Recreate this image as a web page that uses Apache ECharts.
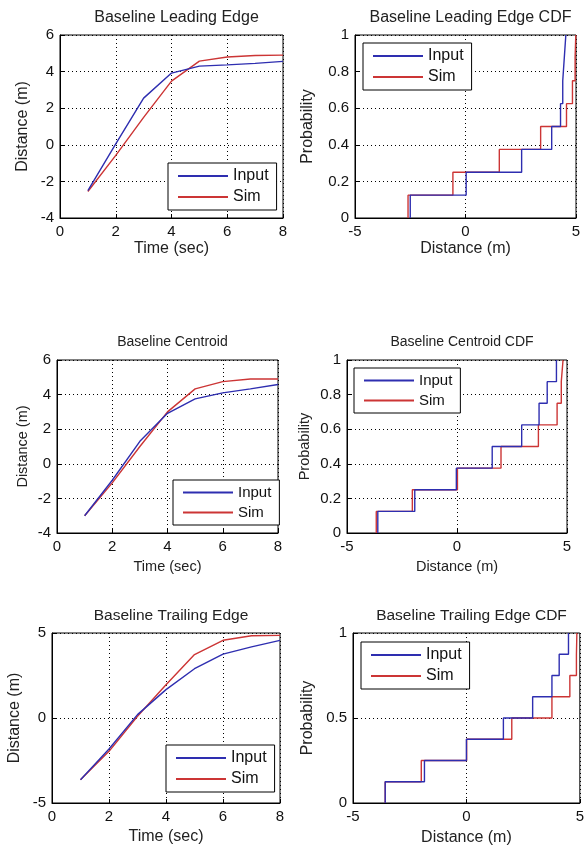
<!DOCTYPE html>
<html>
<head>
<meta charset="utf-8">
<script src="https://cdn.jsdelivr.net/npm/echarts@6/dist/echarts.min.js"></script>
<style>
  html, body { margin: 0; padding: 0; background: #fff; }
  #chart { width: 587px; height: 848px; }
</style>
</head>
<body>
<div id="chart"></div>
<script>
// time samples (sec)
const times = [1, 2, 3, 4, 5, 6, 7, 8];

// distance vs time (m)
const leadInput = [-2.5, 0.05, 2.55, 3.92, 4.3, 4.37, 4.45, 4.56];
const leadSim = [-2.55, -0.58, 1.5, 3.48, 4.57, 4.8, 4.88, 4.9];
const centInput = [-3.0, -0.95, 1.3, 2.92, 3.75, 4.1, 4.33, 4.58];
const centSim = [-3.0, -1.1, 1.0, 3.0, 4.33, 4.75, 4.9, 4.9];
const trailInput = [-3.63, -1.82, 0.2, 1.67, 2.9, 3.76, 4.18, 4.57];
const trailSim = [-3.63, -1.96, 0.1, 1.96, 3.73, 4.57, 4.84, 4.86];

// CDF step positions (m), one per 1/8 step
const leadCdfInput = [-2.5, 0.03, 2.54, 3.9, 4.3, 4.4, 4.47, 4.54];
const leadCdfSim = [-2.6, -0.57, 1.53, 3.4, 4.57, 4.84, 4.96, 4.99];
const centCdfInput = [-3.6, -1.92, -0.03, 1.6, 2.94, 3.73, 4.1, 4.52];
const centCdfSim = [-3.67, -2.03, 0.02, 2.0, 3.7, 4.55, 4.74, 4.82];
const trailCdfInput = [-3.58, -1.85, 0.0, 1.63, 2.92, 3.77, 4.09, 4.5];
const trailCdfSim = [-3.58, -1.99, 0.01, 2.0, 3.77, 4.56, 4.85, 4.87];

const titles = [
  'Baseline Leading Edge', 'Baseline Leading Edge CDF',
  'Baseline Centroid', 'Baseline Centroid CDF',
  'Baseline Trailing Edge', 'Baseline Trailing Edge CDF'
];

const BLUE = '#2e2eb0';
const RED = '#cc3535';
const FONT = 'Liberation Sans, Arial, sans-serif';

// plot boxes: left, top, width, height
const boxes = [
  [60, 35, 223, 183], [355, 35, 221, 183],
  [57, 360, 221, 173], [347, 360, 220, 173],
  [52, 633, 228, 170], [353, 633, 227, 170]
];
const legendPos = [
  [168, 163], [363, 43],
  [173, 480], [354, 368],
  [166, 745], [361, 642]
];
const yNameGap = [29, 39, 27, 35, 29, 37];
const xNameGap = [23, 23, 26, 26, 26, 27];
// text sizes per panel (the middle row is set a little smaller)
const titleSize = [16, 16, 14, 14, 15.5, 15.5];
const nameSize = [16, 16, 14.5, 14.5, 16, 16];
const legendSize = [16, 16, 15, 15, 16, 16];

function timeData(vals) {
  return times.map((t, i) => [t, vals[i]]);
}
function cdfData(vals) {
  const pts = [[vals[0], 0]];
  vals.forEach((v, i) => pts.push([v, (i + 1) / vals.length]));
  return pts;
}

const panels = [
  { kind: 'time', y: [-4, 6, 2], a: leadInput, b: leadSim },
  { kind: 'cdf', y: [0, 1, 0.2], a: leadCdfInput, b: leadCdfSim },
  { kind: 'time', y: [-4, 6, 2], a: centInput, b: centSim },
  { kind: 'cdf', y: [0, 1, 0.2], a: centCdfInput, b: centCdfSim },
  { kind: 'time', y: [-5, 5, 5], a: trailInput, b: trailSim },
  { kind: 'cdf', y: [0, 1, 0.5], a: trailCdfInput, b: trailCdfSim }
];

const dotted = { show: true, lineStyle: { color: '#000', type: [1, 3], width: 1 } };
const tickLabel = { color: '#111', fontSize: 15, fontFamily: FONT, margin: 6 };

const option = {
  animation: false,
  backgroundColor: '#fff',
  title: [], grid: [], xAxis: [], yAxis: [], legend: [], series: []
};

panels.forEach((p, i) => {
  const [l, t, w, h] = boxes[i];
  option.title.push({
    text: titles[i],
    left: l + w / 2,
    top: t - 30,
    textAlign: 'center',
    textStyle: { fontSize: titleSize[i], fontWeight: 'normal', color: '#222', fontFamily: FONT }
  });
  option.grid.push({
    left: l, top: t, width: w, height: h,
    show: true, backgroundColor: '#fff', borderColor: '#000', borderWidth: 1
  });
  const isCdf = p.kind === 'cdf';
  option.xAxis.push({
    gridIndex: i, type: 'value',
    min: isCdf ? -5 : 0, max: isCdf ? 5 : 8, interval: isCdf ? 5 : 2,
    name: isCdf ? 'Distance (m)' : 'Time (sec)',
    nameLocation: 'middle', nameGap: xNameGap[i],
    nameTextStyle: { fontSize: nameSize[i], color: '#222', fontFamily: FONT },
    axisLine: { show: true, onZero: false, lineStyle: { color: '#000' } },
    axisTick: { show: true, inside: true, length: 4, lineStyle: { color: '#000' } },
    axisLabel: tickLabel,
    splitLine: dotted
  });
  option.yAxis.push({
    gridIndex: i, type: 'value',
    min: p.y[0], max: p.y[1], interval: p.y[2],
    name: isCdf ? 'Probability' : 'Distance (m)',
    nameLocation: 'middle', nameGap: yNameGap[i],
    nameTextStyle: { fontSize: nameSize[i], color: '#222', fontFamily: FONT },
    axisLine: { show: true, onZero: false, lineStyle: { color: '#000' } },
    axisTick: { show: true, inside: true, length: 4, lineStyle: { color: '#000' } },
    axisLabel: tickLabel,
    splitLine: dotted
  });
  option.legend.push({
    data: ['Input', 'Sim'],
    orient: 'vertical',
    left: legendPos[i][0], top: legendPos[i][1],
    icon: 'rect', itemWidth: 50, itemHeight: 2, itemGap: 5,
    padding: [5, 8, 5, 10],
    borderColor: '#000', borderWidth: 1, backgroundColor: '#fff',
    textStyle: { fontSize: legendSize[i], color: '#111', fontFamily: FONT }
  });
  const mk = (name, vals, color) => ({
    name, type: 'line',
    xAxisIndex: i, yAxisIndex: i,
    data: isCdf ? cdfData(vals) : timeData(vals),
    step: isCdf ? 'end' : false,
    showSymbol: false, symbol: 'none',
    color,
    lineStyle: { color, width: 1.4 },
    z: name === 'Input' ? 3 : 2
  });
  option.series.push(mk('Input', p.a, BLUE));
  option.series.push(mk('Sim', p.b, RED));
});

const chart = echarts.init(document.getElementById('chart'));
chart.setOption(option);
window.addEventListener('resize', () => chart.resize());
</script>
</body>
</html>
